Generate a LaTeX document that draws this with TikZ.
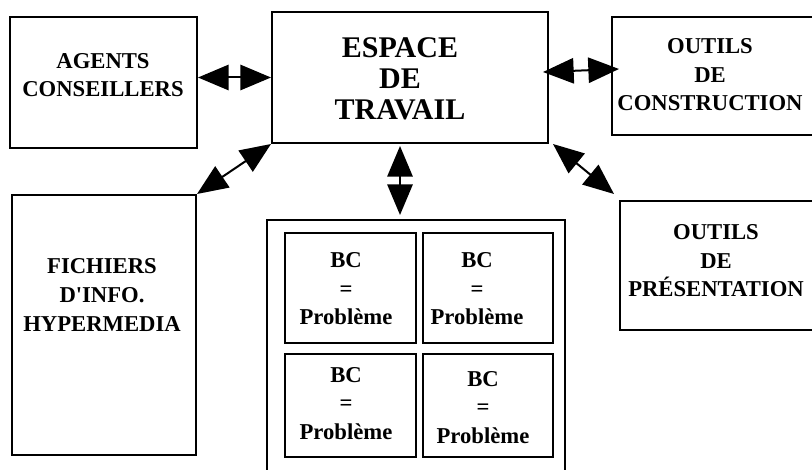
\documentclass[tikz,border=0pt]{standalone}
\usepackage{fontspec}
\setmainfont{Liberation Serif}
\usetikzlibrary{arrows.meta}

\tikzset{every picture/.style={line width=1.5pt}}
\tikzset{
  boite/.style 2 args={draw, minimum width=#1*0.75pt, minimum height=#2*0.75pt, inner sep=0pt},
  texte/.style={align=center, inner sep=0pt, font=\bfseries\fontsize{17pt}{21.4pt}\selectfont},
  grostexte/.style={align=center, inner sep=0pt, font=\bfseries\fontsize{22.5pt}{23.3pt}\selectfont},
  fleche/.style={{Triangle[length=23pt,width=19pt]}-{Triangle[length=23pt,width=19pt]}}
}

\begin{document}
\begin{tikzpicture}[x=0.75pt,y=0.75pt,yscale=-1,xscale=1]
    \useasboundingbox (0,0) rectangle (812,470);
    \clip (0,0) rectangle (812,470);

    %Shape: Rectangle [agents]
    \node[boite={187}{131}] (agents) at (103.5,82.5) {};
    %Shape: Rectangle [espace]
    \node[boite={276}{131}] (espace) at (410,77.5) {};
    %Shape: Rectangle [construction]
    \node[boite={220}{118}] (construction) at (722,76) {};
    %Shape: Rectangle [fichiers]
    \node[boite={184}{260}] (fichiers) at (104,325) {};
    %Shape: Rectangle [presentation]
    \node[boite={220}{129}] (presentation) at (730,265.5) {};
    %Shape: Rectangle [conteneur]
    \node[boite={298}{260}] (conteneur) at (416,350) {};
    %Shape: Rectangle [bc1 .. bc4]
    \node[boite={131}{110}] (bc1) at (350.5,288) {};
    \node[boite={130}{110}] (bc2) at (488,288) {};
    \node[boite={131}{103}] (bc3) at (350.5,405.5) {};
    \node[boite={130}{103}] (bc4) at (488,405.5) {};

    % Text Node
    \node[texte] (t-agents) at (103,75) {AGENTS\\CONSEILLERS};
    % Text Node
    \node[grostexte] (t-espace) at (400,79) {ESPACE\\DE\\TRAVAIL};
    % Text Node
    \node[texte] (t-construction) at (710,75) {OUTILS\\DE\\CONSTRUCTION};
    % Text Node
    \node[texte] (t-presentation) at (716,261) {OUTILS\\DE\\PRÉSENTATION};
    % Text Node
    \node[texte] (t-fichiers) at (102,295) {FICHIERS\\D\textquotesingle INFO.\\HYPERMEDIA};
    % Text Node
    \node[texte] (t-bc1) at (346,289) {BC\\=\\Problème};
    \node[texte] (t-bc2) at (477,289) {BC\\=\\Problème};
    \node[texte] (t-bc3) at (346,403.5) {BC\\=\\Problème};
    \node[texte] (t-bc4) at (483,407.5) {BC\\=\\Problème};

    % Connectors
    \draw[fleche] (agents.east |- espace.west) -- (espace.west);
    \draw[fleche] ([xshift=-4.5pt,yshift=-4.1pt]espace.east) -- ([xshift=6pt,yshift=-5.25pt]construction.west);
    \draw[fleche] (espace.south west) -- (fichiers.north east);
    \draw[fleche] ([xshift=-7.5pt,yshift=1.5pt]espace.south) -- ([xshift=-7.5pt,yshift=-3pt]espace.south |- conteneur.north);
    \draw[fleche] ([xshift=3pt]espace.south east) -- ([xshift=-3.75pt,yshift=-4.5pt]presentation.north west);
\end{tikzpicture}
\end{document}
